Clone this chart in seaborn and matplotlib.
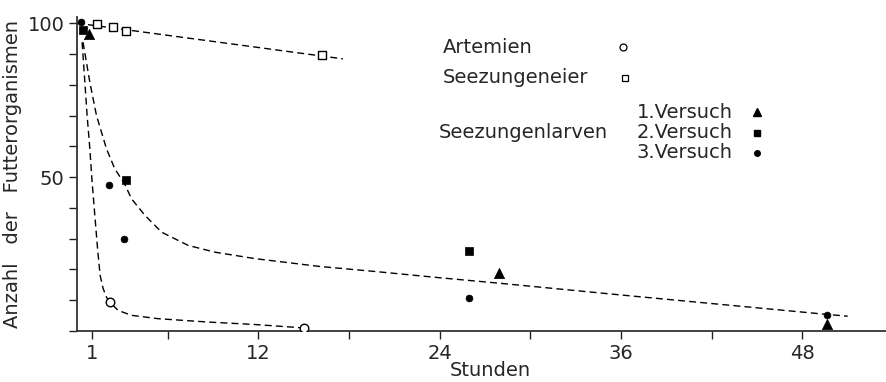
import numpy as np
import pandas as pd
import matplotlib
matplotlib.use("Agg")
import matplotlib.pyplot as plt
import seaborn as sns

# --- measured points ---------------------------------------------------------
artemia_x = [2.2, 15.0]
artemia_y = [9.4, 1.0]

eggs_x = [1.34, 2.37, 3.26, 16.2]
eggs_y = [99.6, 98.9, 97.4, 89.5]

trial1_x = [0.8, 27.9, 49.6]
trial1_y = [96.6, 18.8, 2.4]

trial2_x = [0.39, 3.21, 25.95]
trial2_y = [97.9, 48.9, 25.9]

trial3_x = [0.28, 2.1, 3.1, 25.95, 49.6]
trial3_y = [100.5, 47.3, 29.8, 10.8, 5.3]

# --- hand-drawn trend curves -------------------------------------------------
eggs_curve_x = [0.0, 17.6]
eggs_curve_y = [100.0, 88.4]

artemia_curve_x = [0.34, 0.52, 0.67, 0.85, 1.0, 1.18, 1.36, 1.53, 1.73, 1.95,
                   2.17, 2.72, 3.6, 5.37, 8.7, 11.8, 15.0]
artemia_curve_y = [93.8, 80.8, 70.0, 59.2, 48.4, 37.6, 26.8, 18.1, 13.8, 11.0,
                   9.4, 6.7, 5.1, 4.0, 2.9, 2.1, 1.0]

larvae_curve_x = [0.4, 0.85, 1.29, 1.95, 2.5, 3.17, 3.6, 4.49, 5.6, 7.36, 9.13,
                  11.8, 16.0, 20.0, 24.0, 28.0, 36.0, 49.6, 51.0]
larvae_curve_y = [93.8, 80.8, 70.0, 59.2, 52.7, 47.6, 43.0, 37.6, 32.1, 27.8, 25.6,
                  23.5, 21.0, 19.2, 17.3, 15.5, 11.7, 5.4, 4.8]

# --- axis ticks ---------------------------------------------------------------
x_ticks = [1, 6, 12, 18, 24, 30, 36, 42, 48]
x_tick_labels = ["1", "", "12", "", "24", "", "36", "", "48"]
y_ticks = [0, 10, 20, 30, 40, 50, 60, 70, 80, 90, 100]
y_tick_labels = ["", "", "", "", "", "50", "", "", "", "", "100"]

sns.set_theme(style="ticks")
plt.rcParams["font.family"] = ["DejaVu Sans"]
plt.rcParams["font.size"] = 14

fig = plt.figure(figsize=(8.87, 3.82), dpi=100)
ax = fig.add_axes([0.0868, 0.1335, 0.9132, 0.822])

dash = (0, (5, 3))
for cx, cy in [(eggs_curve_x, eggs_curve_y),
               (artemia_curve_x, artemia_curve_y),
               (larvae_curve_x, larvae_curve_y)]:
    sns.lineplot(x=cx, y=cy, sort=False, estimator=None, ax=ax,
                 color="black", linewidth=1.0, linestyle=dash)

sns.scatterplot(x=artemia_x, y=artemia_y, ax=ax, marker="o", s=38,
                facecolor="white", edgecolor="black", linewidth=1.0, zorder=5)
sns.scatterplot(x=eggs_x, y=eggs_y, ax=ax, marker="s", s=38,
                facecolor="white", edgecolor="black", linewidth=1.0, zorder=5)
sns.scatterplot(x=trial1_x, y=trial1_y, ax=ax, marker="^", s=55,
                color="black", edgecolor="black", linewidth=0.5, zorder=5)
sns.scatterplot(x=trial2_x, y=trial2_y, ax=ax, marker="s", s=36,
                color="black", edgecolor="black", linewidth=0.5, zorder=5)
sns.scatterplot(x=trial3_x, y=trial3_y, ax=ax, marker="o", s=24,
                color="black", edgecolor="black", linewidth=0.5, zorder=5)

ax.set_xlim(0, 53.6)
ax.set_ylim(0, 102)
ax.set_xticks(x_ticks)
ax.set_xticklabels(x_tick_labels)
ax.set_yticks(y_ticks)
ax.set_yticklabels(y_tick_labels)
ax.tick_params(axis="both", direction="out", length=6, width=1.0,
               color="#222222", labelsize=14, pad=3)

sns.despine(ax=ax)
for side in ("left", "bottom"):
    ax.spines[side].set_color("#333333")
    ax.spines[side].set_linewidth(1.3)

ax.set_xlabel("Stunden", fontsize=14)
ax.xaxis.set_label_coords(0.51, -0.095)
ax.set_ylabel("Anzahl   der   Futterorganismen", fontsize=14)
ax.yaxis.set_label_coords(-0.068, 0.5)

# --- key ------------------------------------------------------------------
tr = ax.transAxes
fs = 14
ax.text(0.452, 0.904, "Artemien", transform=tr, va="center", ha="left", fontsize=fs)
ax.plot([0.674], [0.904], transform=tr, marker="o", ms=5, mfc="white", mec="black", mew=0.9)
ax.text(0.452, 0.806, "Seezungeneier", transform=tr, va="center", ha="left", fontsize=fs)
ax.plot([0.677], [0.806], transform=tr, marker="s", ms=5, mfc="white", mec="black", mew=0.9)
ax.text(0.446, 0.631, "Seezungenlarven", transform=tr, va="center", ha="left", fontsize=fs)
ax.text(0.691, 0.697, "1.Versuch", transform=tr, va="center", ha="left", fontsize=fs)
ax.plot([0.840], [0.697], transform=tr, marker="^", ms=6, color="black")
ax.text(0.691, 0.631, "2.Versuch", transform=tr, va="center", ha="left", fontsize=fs)
ax.plot([0.840], [0.631], transform=tr, marker="s", ms=5, color="black")
ax.text(0.691, 0.567, "3.Versuch", transform=tr, va="center", ha="left", fontsize=fs)
ax.plot([0.840], [0.567], transform=tr, marker="o", ms=4, color="black")

fig.savefig("out.png", dpi=100)
